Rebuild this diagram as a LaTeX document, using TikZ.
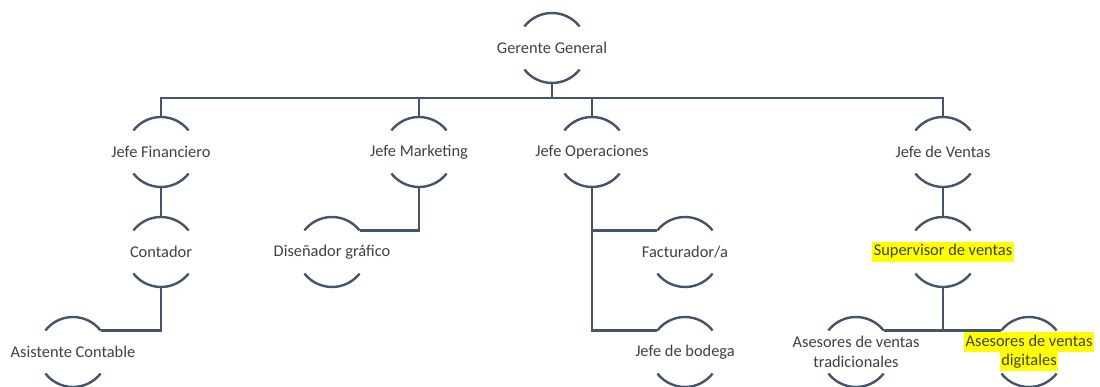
\documentclass[tikz,border=0pt]{standalone}
\usepackage{fontspec}
\setmainfont{Carlito}
\usepackage{tikz}

\definecolor{linecol}{HTML}{44546A}
\definecolor{txtcol}{HTML}{404040}
\definecolor{hlyellow}{HTML}{FFFF00}
\newcommand{\marca}[1]{{\setlength{\fboxsep}{0pt}\colorbox{hlyellow}{\kern1.5pt\strut #1\kern1.5pt}}}

\begin{document}
\begin{tikzpicture}[x=1pt, y=1pt,
	conn/.style={line width=2.4pt, draw=linecol},
	person/.style={circle, minimum size=70pt, inner sep=0pt, outer sep=0pt},
	every label/.style={align=center, inner sep=0pt, text=txtcol,
		font=\fontsize{16.4}{19.5}\selectfont}]
	\useasboundingbox (0,0) rectangle (1100,387);
	
	% top
	\node[person, label=center:{Gerente General}] (gg) at (552,339) {};
	
	% jefes
	\node[person, label=center:{Jefe Financiero}] (jf) at (161,235) {};
	\node[person, label=center:{Jefe Marketing}] (jm) at (419,235) {};
	\node[person, label=center:{Jefe Operaciones}] (jo) at (592,235) {};
	\node[person, label=center:{Jefe de Ventas}] (jv) at (943,235) {};
	
	% second level
	\node[person, label=center:{Contador}] (ct) at (161,135) {};
	\node[person, label=center:{Diseñador gráfico}] (dg) at (332,135) {};
	\node[person, label=center:{Facturador/a}] (fa) at (685,135) {};
	\node[person, label=center:{\marca{Supervisor de ventas}}] (sv) at (943,135) {};
	
	% third level
	\node[person, label=center:{Asistente Contable}] (ac) at (73,35) {};
	\node[person, label=center:{Jefe de bodega}] (jb) at (685,35) {};
	\node[person, label=center:{Asesores de ventas\\tradicionales}] (tr) at (856,35) {};
	\node[person, label=center:{\marca{Asesores de ventas}\\\marca{digitales}}] (di) at (1029,35) {};
	
	% arcs
	\foreach \n in {gg,jf,jm,jo,jv,ct,dg,fa,sv,ac,jb,tr,di}{
		\draw[conn] (\n.38) arc[start angle=38, end angle=142, radius=35];
		\draw[conn] (\n.218) arc[start angle=218, end angle=322, radius=35];
	}
	
	% lines
	\foreach \j in {jf,jm,jo,jv}
		\draw[conn] (gg.south) -- ++(0,-15) -| (\j.north);
	\draw[conn] (jf.south) -- (ct.north);
	\draw[conn] (jm.south) |- (dg.38);
	\draw[conn] (ct.south) |- (ac.38);
	\draw[conn] (jo.south) |- (fa.142);
	\draw[conn] (jo.south) |- (jb.142);
	\draw[conn] (jv.south) -- (sv.north);
	\draw[conn] (sv.south) |- (tr.38);
	\draw[conn] (sv.south) |- (di.142);
\end{tikzpicture}
\end{document}
